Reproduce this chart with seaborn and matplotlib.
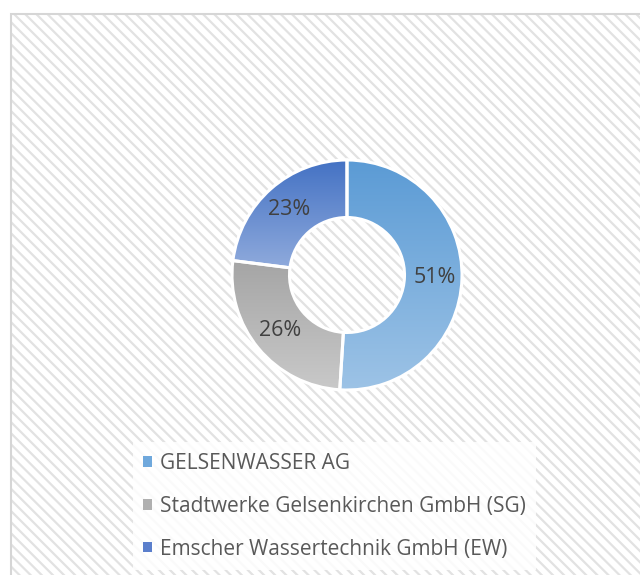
import numpy as np
import matplotlib
matplotlib.use("Agg")
import matplotlib.pyplot as plt
import seaborn as sns
from matplotlib.patches import Rectangle, Patch
from matplotlib.colors import LinearSegmentedColormap

sns.set_theme(style="white")
plt.rcParams['font.family'] = ['Open Sans', 'DejaVu Sans']
plt.rcParams['hatch.linewidth'] = 1.6

# data
labels = ["GELSENWASSER AG",
          "Stadtwerke Gelsenkirchen GmbH (SG)",
          "Emscher Wassertechnik GmbH (EW)"]
shares = [51, 26, 23]
pct_labels = ["51%", "26%", "23%"]
# (top, bottom) gradient colours per slice
grad_top = ["#5B9BD5", "#A5A5A5", "#4472C4"]
grad_bottom = ["#9DC3E6", "#C9C9C9", "#8FAADC"]
legend_colors = ["#6FA8DC", "#B0B0B0", "#5B7FCC"]

W, H = 640, 575
fig = plt.figure(figsize=(W / 100, H / 100), dpi=100)
fig.patch.set_facecolor("white")

# hatched chart area
bg = Rectangle((11 / W, 0), 1, 1 - 14 / H, transform=fig.transFigure,
               facecolor="white", edgecolor="#E2E2E2", hatch="\\\\\\",
               linewidth=0, zorder=-2)
fig.patches.append(bg)
border = Rectangle((11 / W, -0.01), 1, 1 - 14 / H + 0.01, transform=fig.transFigure,
                   facecolor="none", edgecolor="#D6D6D6", linewidth=1.5, zorder=-1)
fig.patches.append(border)

# donut axes: centre (347, 275) px, radius 115 px
cx, cy, r = 347, 275, 115
ax = fig.add_axes([(cx - r) / W, 1 - (cy + r) / H, 2 * r / W, 2 * r / H])
ax.axis("off")
ax.patch.set_alpha(0)

wedges, _ = ax.pie(shares, startangle=90, counterclock=False, radius=1,
                   wedgeprops=dict(width=0.5, facecolor="none",
                                   edgecolor="white", linewidth=2.2))

grad = np.linspace(0, 1, 256).reshape(-1, 1)
for w, ctop, cbot in zip(wedges, grad_top, grad_bottom):
    w.set_zorder(3)
    ext = w.get_path().get_extents()
    cmap = LinearSegmentedColormap.from_list("g", [ctop, cbot])
    im = ax.imshow(grad, cmap=cmap, aspect="auto", origin="upper",
                   extent=(ext.x0, ext.x1, ext.y0, ext.y1), zorder=2,
                   interpolation="bilinear")
    im.set_clip_path(w)

ax.set_xlim(-1, 1)
ax.set_ylim(-1, 1)

# percentage labels in middle of ring
ang0 = 90.0
for s, t in zip(shares, pct_labels):
    mid = np.deg2rad(ang0 - s / sum(shares) * 360 / 2)
    ang0 -= s / sum(shares) * 360
    ax.text(0.76 * np.cos(mid), 0.76 * np.sin(mid), t, ha="center", va="center",
            fontsize=15.5, color="#404040", zorder=5)

handles = [Patch(facecolor=c, edgecolor="none") for c in legend_colors]
leg = fig.legend(handles, labels, loc="lower left",
                 bbox_to_anchor=(133 / W, 5 / H), borderaxespad=0,
                 fontsize=15, labelcolor="#595959", frameon=True,
                 facecolor="white", framealpha=0.85, edgecolor="none",
                 fancybox=False, handlelength=0.4, handleheight=0.4,
                 handletextpad=0.4, labelspacing=1.05, borderpad=0.5)

fig.savefig("out.png", dpi=100)
